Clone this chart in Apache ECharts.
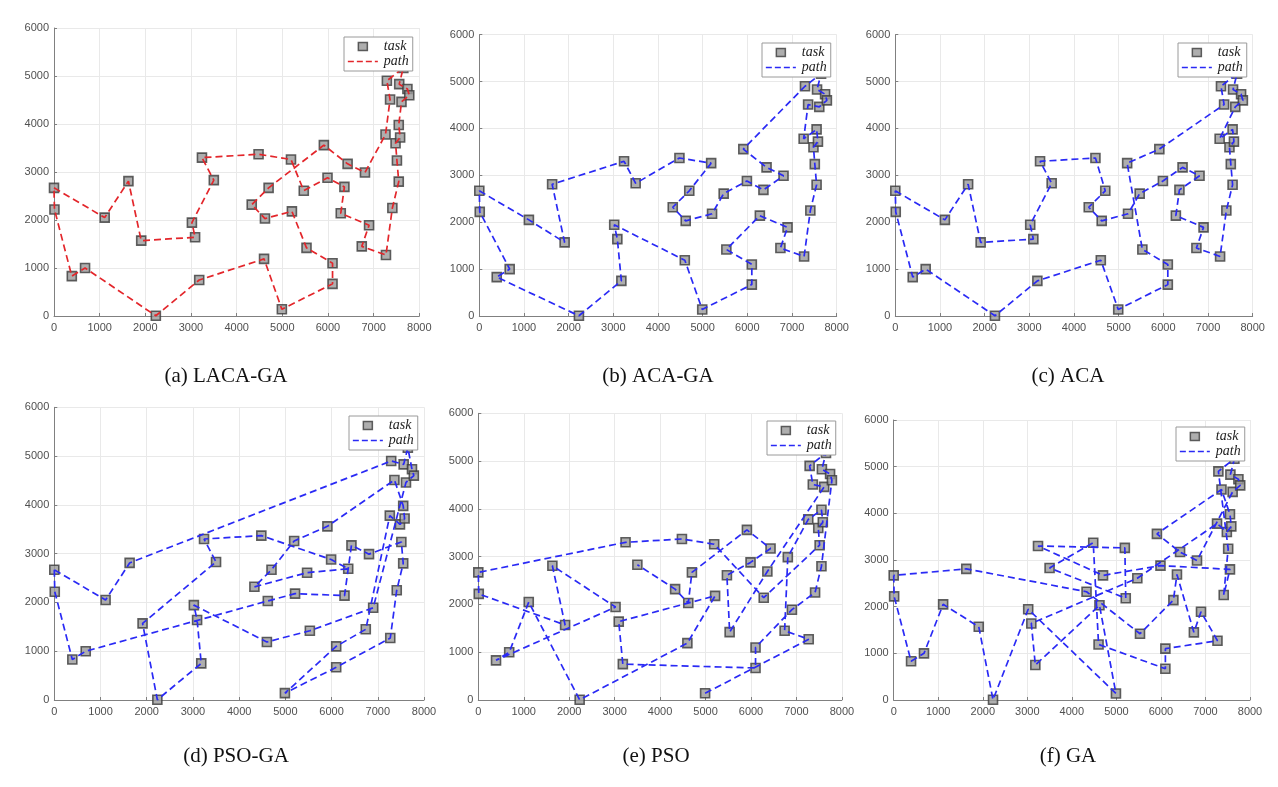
<!DOCTYPE html>
<html>
<head>
<meta charset="utf-8">
<script src="https://cdn.jsdelivr.net/npm/echarts@6/dist/echarts.min.js"></script>
<style>
html,body{margin:0;padding:0;background:#fff;}
#c{width:1278px;height:787px;}
</style>
</head>
<body>
<div id="c"></div>
<script>
// ---- data ----
const taskX = [0,10,390,680,1110,1630,1910,2230,3020,3090,3180,3240,3500,4330,4480,4600,4620,4700,4990,5190,5210,5470,5530,5910,5990,6100,6100,6280,6360,6430,6740,6810,6900,7270,7260,7290,7360,7410,7480,7510,7550,7550,7580,7560,7610,7740,7780,7650];
const taskY = [2670,2220,830,1000,2050,2810,1570,5,1945,1640,750,3300,2830,2320,3370,1190,2030,2670,140,3260,2180,2610,1420,3560,2880,1100,670,2140,2690,3170,1450,2990,1890,1270,3780,4900,4510,2250,3600,3240,2800,3980,3720,4830,4460,4730,4600,5170];

const xTicks = [0,1000,2000,3000,4000,5000,6000,7000,8000];
const yTicks = [0,1000,2000,3000,4000,5000,6000];

const panelTitles = ['(a) LACA-GA','(b) ACA-GA','(c) ACA','(d) PSO-GA','(e) PSO','(f) GA'];
const legendNames = ['task','path'];

// visiting order of the tasks (indices into taskX / taskY)
const orderLACAGA = [0,4,5,6,9,8,12,11,14,19,21,24,28,27,32,30,33,37,40,39,38,42,41,44,46,45,43,47,35,36,34,31,29,23,17,13,16,20,22,25,26,18,15,10,7,3,2,1];
const orderACAGA  = [0,4,6,5,11,12,14,19,17,13,16,20,21,24,28,31,29,23,35,47,43,45,46,44,36,34,41,42,38,39,40,37,33,30,32,27,22,25,26,18,15,8,9,10,7,2,3,1];
const orderACA    = [0,4,5,6,9,8,12,11,14,17,13,16,20,21,24,29,31,28,27,32,30,33,37,40,39,38,42,41,34,44,46,45,43,47,35,36,23,19,22,25,26,18,15,10,7,3,2,1];
const orderPSOGA  = [0,1,2,3,16,20,27,29,31,39,40,37,33,26,18,25,30,34,38,42,41,36,23,19,17,13,21,28,24,14,11,12,6,7,10,9,8,15,22,32,44,46,45,47,43,35,5,4];
const orderPSO    = [18,33,30,31,34,41,42,38,39,27,19,14,11,0,1,6,5,8,2,3,4,7,15,20,9,10,26,25,32,37,40,46,45,43,47,35,36,44,28,22,21,24,29,23,17,16,13,12];
const orderGA     = [0,1,2,3,4,6,7,8,18,16,10,9,21,34,38,42,41,36,23,29,31,44,46,45,43,47,35,39,37,40,24,17,11,19,20,12,14,15,26,25,33,32,30,28,27,22,13,5];
const tourClosed  = [true,true,true,true,false,true];

// ---- layout / style ----
const panels = [
  {order: orderLACAGA, color: '#e3262b', grid: {left:54,   top:28,    width:365.3, height:288},   legend: {left:344,  top:37},  title: {x:226, y:366}},
  {order: orderACAGA,  color: '#2a2af5', grid: {left:479.3,top:34.7,  width:357.4, height:281.3}, legend: {left:762,  top:43},  title: {x:658, y:366}},
  {order: orderACA,    color: '#2a2af5', grid: {left:895.3,top:34.7,  width:357.4, height:281.3}, legend: {left:1178, top:43},  title: {x:1068,y:366}},
  {order: orderPSOGA,  color: '#2a2af5', grid: {left:54.3, top:407.3, width:369.7, height:292.7}, legend: {left:349,  top:416}, title: {x:236, y:746}},
  {order: orderPSO,    color: '#2a2af5', grid: {left:478.3,top:413.3, width:363.6, height:286.7}, legend: {left:767,  top:421}, title: {x:656, y:746}},
  {order: orderGA,     color: '#2a2af5', grid: {left:893.7,top:420,   width:356.3, height:280},   legend: {left:1176, top:427}, title: {x:1068,y:746}}
];

const axisGray = '#808080';
const labelStyle = {color:'#505050', fontSize:11, fontFamily:'"Liberation Sans", Arial, sans-serif'};
// square legend marker; invisible corner points fix the icon box to itemWidth x itemHeight
const taskIcon = 'path://M0,0L0,0M30,9L30,9M10.5,0.5L19.5,0.5L19.5,8.5L10.5,8.5Z';

const grids=[], xAxes=[], yAxes=[], series=[], titles=[], legends=[];
const taskPoints = taskX.map((x,i)=>[x, taskY[i]]);

panels.forEach((p,k)=>{
  grids.push(Object.assign({containLabel:false, outerBoundsMode:'none'}, p.grid));
  xAxes.push({
    type:'value', gridIndex:k,
    min:xTicks[0], max:xTicks[xTicks.length-1], interval:xTicks[1]-xTicks[0],
    axisLine:{show:true, onZero:false, lineStyle:{color:axisGray, width:1}},
    axisTick:{show:true, inside:true, length:3, lineStyle:{color:axisGray}},
    splitLine:{show:true, lineStyle:{color:'#e9e9e9', width:1}},
    axisLabel:Object.assign({margin:6, formatter: v => String(v)}, labelStyle)
  });
  yAxes.push({
    type:'value', gridIndex:k,
    min:yTicks[0], max:yTicks[yTicks.length-1], interval:yTicks[1]-yTicks[0],
    axisLine:{show:true, onZero:false, lineStyle:{color:axisGray, width:1}},
    axisTick:{show:true, inside:true, length:3, lineStyle:{color:axisGray}},
    splitLine:{show:true, lineStyle:{color:'#e9e9e9', width:1}},
    axisLabel:Object.assign({margin:5, formatter: v => String(v)}, labelStyle)
  });
  series.push({
    name: legendNames[0], type:'scatter', xAxisIndex:k, yAxisIndex:k,
    data: taskPoints, symbol:'rect', symbolSize:9, clip:false, z:2,
    itemStyle:{color:'#9a9a9a', borderColor:'#3a3a3a', borderWidth:1.6},
    emphasis:{disabled:true}, silent:true
  });
  const pathData = p.order.map(i => [taskX[i], taskY[i]]);
  if (tourClosed[k]) pathData.push([taskX[p.order[0]], taskY[p.order[0]]]);
  series.push({
    name: legendNames[1], type:'line', xAxisIndex:k, yAxisIndex:k,
    data: pathData, symbol:'none', showSymbol:false, clip:false, z:3,
    lineStyle:{color:p.color, width:1.7, type:[7,4]},
    itemStyle:{color:p.color},
    emphasis:{disabled:true}, silent:true, animation:false
  });
  legends.push({
    orient:'vertical', left:p.legend.left, top:p.legend.top,
    itemWidth:30, itemHeight:9, itemGap:0,
    padding:[2,4,2,3],
    backgroundColor:'#ffffff', borderColor:'#9a9a9a', borderWidth:1,
    selectedMode:false, z:10, symbolKeepAspect:false,
    textStyle:{fontFamily:'"Liberation Serif", "Times New Roman", serif', fontStyle:'italic', fontSize:14, lineHeight:15, color:'#222', padding:[0,0,0,1]},
    data:[
      {name:legendNames[0], icon:taskIcon, itemStyle:{color:'#9a9a9a', borderColor:'#3a3a3a', borderWidth:1.5}},
      {name:legendNames[1], itemStyle:{opacity:0}, lineStyle:{color:p.color, width:1.7, type:[6,3]}}
    ]
  });
  titles.push({
    text: panelTitles[k], left:p.title.x, top:p.title.y, padding:0,
    textAlign:'center', textVerticalAlign:'top',
    textStyle:{fontFamily:'"Liberation Serif", "Times New Roman", serif', fontWeight:'normal', fontSize:21, color:'#111'}
  });
});

const chart = echarts.init(document.getElementById('c'), null, {renderer:'canvas'});
chart.setOption({
  animation:false,
  backgroundColor:'#ffffff',
  title: titles,
  legend: legends,
  grid: grids,
  xAxis: xAxes,
  yAxis: yAxes,
  series: series
});
</script>
</body>
</html>
